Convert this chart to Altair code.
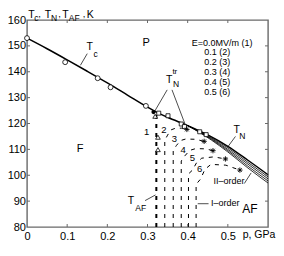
import altair as alt
import pandas as pd

FONT = "Liberation Sans"
FRAME = "#6a6a6a"
W, H = 241, 207

# ---- data ----
main_p = [0, 0.05, 0.1, 0.15, 0.2, 0.25, 0.3, 0.32, 0.35, 0.4, 0.45, 0.5, 0.55, 0.6]
main_T = [153, 148.9, 144.6, 140.2, 135.7, 131.0, 126.3, 124.6, 122.4, 119.2, 115.6, 111.2, 105.8, 100.2]

fan_p = [0.4, 0.46, 0.5, 0.55, 0.6]
fan_a = [119.2, 114.4, 110.6, 105.0, 99.4]
fan_b = [119.2, 114.1, 110.0, 104.3, 98.6]
fan_c = [119.2, 113.8, 109.5, 103.5, 97.8]
fan_d = [119.2, 113.5, 109.0, 102.8, 97.0]

c1_p = [0.322, 0.322]
c1_T = [80, 123.5]
c2_p = [0.343, 0.343, 0.350, 0.358, 0.370, 0.385, 0.398]
c2_T = [80, 113.5, 115.5, 117.5, 118.2, 118.2, 117.7]
c3_p = [0.364, 0.364, 0.372, 0.382, 0.395, 0.420, 0.441]
c3_T = [80, 109.5, 111.5, 113.4, 114.0, 113.9, 113.1]
c4_p = [0.384, 0.384, 0.393, 0.405, 0.420, 0.445, 0.463]
c4_T = [80, 105.5, 107.5, 109.6, 110.3, 110.2, 109.5]
c5_p = [0.402, 0.402, 0.412, 0.422, 0.435, 0.465, 0.494]
c5_T = [80, 100.5, 102.0, 104.8, 106.6, 107.1, 106.3]
c6_p = [0.421, 0.421, 0.432, 0.443, 0.458, 0.495, 0.530]
c6_T = [80, 96.5, 98.5, 102.3, 104.2, 103.9, 102.0]

circ_p = [0, 0.095, 0.176, 0.208, 0.296]
circ_T = [153, 143.7, 137.5, 134.0, 126.8]
sq_p = [0.328, 0.351, 0.384, 0.392, 0.430, 0.446]
sq_T = [124.0, 123.0, 119.8, 118.8, 116.8, 115.7]
tri_p = [0.319, 0.326, 0.326]
tri_T = [122.8, 114.7, 109.9]
star_p = [0.398, 0.441, 0.463, 0.494, 0.530]
star_T = [117.7, 113.1, 109.5, 106.3, 102.0]
dot_p = [0.315]
dot_T = [124.4]

# pointer lines (from -> to)
ptr_p1 = [0.133, 0.349, 0.361, 0.519, 0.541, 0.425, 0.294]
ptr_T1 = [142.5, 133.0, 133.0, 115.0, 96.8, 89.0, 90.2]
ptr_p2 = [0.150, 0.317, 0.398, 0.500, 0.558, 0.452, 0.320]
ptr_T2 = [147.0, 124.5, 117.9, 111.0, 100.9, 89.0, 92.4]

# centred labels
cl_text = ["P", "F", "AF", "T", "c", "T", "tr", "N", "T", "N", "T", "AF",
           "1", "2", "3", "4", "5", "6", "II\u2013order"]
cl_p = [0.297, 0.132, 0.555, 0.156, 0.171, 0.354, 0.368, 0.371, 0.522, 0.536, 0.259, 0.283,
        0.298, 0.341, 0.367, 0.389, 0.412, 0.430, 0.503]
cl_T = [151.0, 110.3, 86.8, 149.5, 146.7, 136.8, 139.8, 135.2, 117.3, 115.0, 90.0, 87.4,
        116.9, 117.4, 114.0, 109.8, 106.6, 102.6, 97.9]
cl_fs = [11, 11, 12, 10.5, 8.5, 10.5, 8, 8.5, 10.5, 8.5, 10.5, 8.5,
         9.5, 9.5, 9.5, 9.5, 9.5, 9.5, 9]

# left aligned labels (middle baseline)
ll_text = ["E=0.0MV/m (1)", "0.1 (2)", "0.2 (3)", "0.3 (4)", "0.4 (5)", "0.5 (6)", "I\u2013order"]
ll_p = [0.410, 0.4415, 0.4415, 0.4415, 0.4415, 0.4415, 0.458]
ll_T = [151.2, 147.5, 143.9, 140.0, 136.2, 132.3, 89.2]
ll_fs = [9, 9, 9, 9, 9, 9, 9]

# axis titles (left aligned, alphabetic baseline)
at_text = ["T", "c", ",", "T", "N", ",", "T", "AF", ",", "K", "p, GPa"]
at_p = [0.003, 0.018, 0.028, 0.044, 0.060, 0.078, 0.088, 0.104, 0.139, 0.149, 0.537]
at_T = [160.95, 159.8, 161.2, 160.95, 159.8, 161.2, 160.95, 159.8, 161.2, 160.95, 75.8]
at_fs = [10.5, 8.5, 9.5, 10.5, 8.5, 9.5, 10.5, 8.5, 9.5, 10.5, 10.5]

x_ticks = [0, 0.1, 0.2, 0.3, 0.4, 0.5]
y_ticks = [80, 90, 100, 110, 120, 130, 140, 150, 160]
in_x = [0.1, 0.2, 0.3, 0.4, 0.5]
in_y = [90, 100, 110, 120, 130, 140, 150]

# ---- tables ----
def rows(name, ps, ts):
    return [{"id": name, "p": p, "T": t, "o": i} for i, (p, t) in enumerate(zip(ps, ts))]

main_df = pd.DataFrame(rows("main", main_p, main_T))
fan_df = pd.DataFrame(rows("a", fan_p, fan_a) + rows("b", fan_p, fan_b) +
                      rows("c", fan_p, fan_c) + rows("d", fan_p, fan_d))
c1_df = pd.DataFrame(rows("1", c1_p, c1_T))
cur_df = pd.DataFrame(rows("2", c2_p, c2_T) + rows("3", c3_p, c3_T) + rows("4", c4_p, c4_T) +
                      rows("5", c5_p, c5_T) + rows("6", c6_p, c6_T))
circ_df = pd.DataFrame({"p": circ_p, "T": circ_T})
sq_df = pd.DataFrame({"p": sq_p, "T": sq_T})
tri_df = pd.DataFrame({"p": tri_p, "T": tri_T})
star_df = pd.DataFrame({"p": star_p, "T": star_T})
dot_df = pd.DataFrame({"p": dot_p, "T": dot_T})
ptr_df = pd.DataFrame({"p": ptr_p1, "T": ptr_T1, "p2": ptr_p2, "T2": ptr_T2})
cl_df = pd.DataFrame({"p": cl_p, "T": cl_T, "t": cl_text, "fs": cl_fs})
ll_df = pd.DataFrame({"p": ll_p, "T": ll_T, "t": ll_text, "fs": ll_fs})
at_df = pd.DataFrame({"p": at_p, "T": at_T, "t": at_text, "fs": at_fs})
ix_df = pd.DataFrame({"p": in_x})
iy_df = pd.DataFrame({"T": in_y})

xs = alt.Scale(domain=[0, 0.6], nice=False, zero=False)
ys = alt.Scale(domain=[80, 160], nice=False, zero=False)
x_axis = alt.Axis(values=x_ticks, format=".1~f", ticks=False, domain=False, grid=False,
                  title=None, labelFontSize=11, labelFont=FONT, labelColor="black",
                  labelPadding=3, labelFlush=False, labelOverlap=False)
y_axis = alt.Axis(values=y_ticks, format="d", ticks=False, domain=False, grid=False,
                  title=None, labelFontSize=11, labelFont=FONT, labelColor="black",
                  labelPadding=1.5, labelFlush=False, labelOverlap=False)

def X(f="p"):
    return alt.X(f"{f}:Q", scale=xs, axis=x_axis)

def Y(f="T"):
    return alt.Y(f"{f}:Q", scale=ys, axis=y_axis)

layers = []
layers.append(alt.Chart(main_df).mark_line(color="black", strokeWidth=1.5, interpolate="monotone")
              .encode(x=X(), y=Y(), order="o:Q"))
layers.append(alt.Chart(fan_df).mark_line(color="black", strokeWidth=0.8, interpolate="monotone")
              .encode(x=X(), y=Y(), detail="id:N", order="o:Q"))
layers.append(alt.Chart(c1_df).mark_line(color="black", strokeWidth=2, strokeDash=[4, 5])
              .encode(x=X(), y=Y(), order="o:Q"))
layers.append(alt.Chart(cur_df).mark_line(color="black", strokeWidth=1, strokeDash=[4, 5])
              .encode(x=X(), y=Y(), detail="id:N", order="o:Q"))
layers.append(alt.Chart(ptr_df).mark_rule(color="black", strokeWidth=0.7)
              .encode(x=X(), y=Y(), x2="p2:Q", y2="T2:Q"))
layers.append(alt.Chart(circ_df).mark_point(shape="circle", filled=True, fill="white", stroke="black",
                                            strokeWidth=0.8, size=24, opacity=1)
              .encode(x=X(), y=Y()))
layers.append(alt.Chart(sq_df).mark_point(shape="square", filled=True, fill="white", stroke="black",
                                          strokeWidth=0.8, size=16, opacity=1)
              .encode(x=X(), y=Y()))
layers.append(alt.Chart(tri_df).mark_point(shape="triangle-up", filled=True, fill="white", stroke="black",
                                           strokeWidth=0.8, size=22, opacity=1)
              .encode(x=X(), y=Y()))
layers.append(alt.Chart(star_df).mark_point(
    shape="M-1,0L1,0M0,-1L0,1M-0.7,-0.7L0.7,0.7M-0.7,0.7L0.7,-0.7",
    filled=False, stroke="black", strokeWidth=0.9, size=28, opacity=1)
    .encode(x=X(), y=Y()))
layers.append(alt.Chart(dot_df).mark_point(shape="circle", filled=True, color="black", size=18, opacity=1)
              .encode(x=X(), y=Y()))
layers.append(alt.Chart(cl_df).mark_text(font=FONT, color="black", align="center", baseline="middle")
              .encode(x=X(), y=Y(), text="t:N", size=alt.Size("fs:Q", scale=None, legend=None)))
layers.append(alt.Chart(ll_df).mark_text(font=FONT, color="black", align="left", baseline="middle")
              .encode(x=X(), y=Y(), text="t:N", size=alt.Size("fs:Q", scale=None, legend=None)))
layers.append(alt.Chart(at_df).mark_text(font=FONT, color="black", align="left", baseline="alphabetic")
              .encode(x=X(), y=Y(), text="t:N", size=alt.Size("fs:Q", scale=None, legend=None)))
# inward ticks on all four sides
layers.append(alt.Chart(ix_df).mark_rule(color=FRAME, strokeWidth=1)
              .encode(x=X(), y=alt.value(H), y2=alt.value(H - 3)))
layers.append(alt.Chart(ix_df).mark_rule(color=FRAME, strokeWidth=1)
              .encode(x=X(), y=alt.value(0), y2=alt.value(3)))
layers.append(alt.Chart(iy_df).mark_rule(color=FRAME, strokeWidth=1)
              .encode(y=Y(), x=alt.value(0), x2=alt.value(3)))
layers.append(alt.Chart(iy_df).mark_rule(color=FRAME, strokeWidth=1)
              .encode(y=Y(), x=alt.value(W), x2=alt.value(W - 3)))

chart = alt.layer(*layers).properties(
    width=W, height=H,
    padding={"left": 19, "top": 12, "right": 8, "bottom": 20},
    autosize=alt.AutoSizeParams(type="none"),
    background="white",
).configure_view(stroke=FRAME, strokeWidth=1.4)

chart.save("out.html", embed_options={"renderer": "svg", "actions": False})
